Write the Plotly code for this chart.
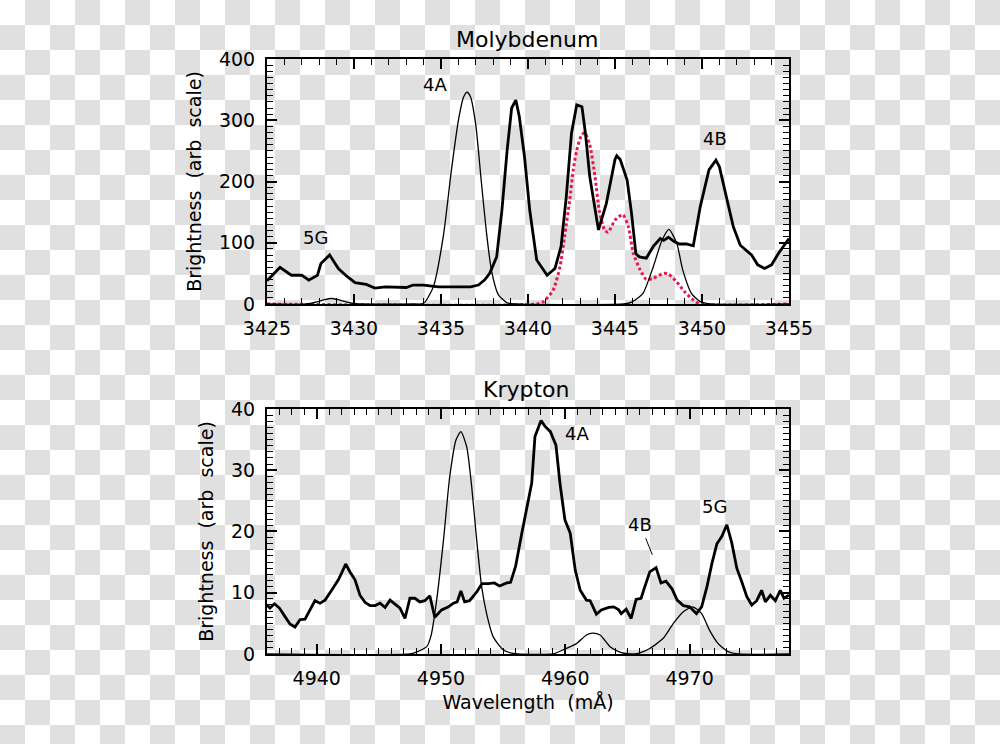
import plotly.graph_objects as go

# Molybdenum panel: measured spectrum (thick)
mo_wave = [3425.0, 3425.75, 3426.4, 3427.0, 3427.4, 3427.9, 3428.1, 3428.6, 3429.1, 3429.6,
           3430.06, 3430.7, 3431.2, 3431.8, 3433.0, 3433.4, 3434.0, 3434.85, 3435.5, 3436.7,
           3437.15, 3437.5, 3437.8, 3438.2, 3438.5, 3438.8, 3439.06, 3439.3, 3439.5, 3439.8,
           3440.1, 3440.5, 3441.1, 3441.55, 3441.9, 3442.2, 3442.5, 3442.8, 3443.1, 3443.3,
           3443.55, 3443.85, 3444.05, 3444.5, 3445.0, 3445.1, 3445.3, 3445.7, 3445.95, 3446.2,
           3446.4, 3446.8, 3447.2, 3447.6, 3447.8, 3448.07, 3448.4, 3448.7, 3449.1, 3449.5,
           3449.9, 3450.4, 3450.8, 3451.0, 3451.4, 3451.8, 3452.2, 3452.6, 3452.85, 3453.2,
           3453.6, 3454.0, 3454.4, 3455.0]
mo_obs = [38, 60, 47, 47, 39, 47, 66, 80, 58, 45,
          35, 32, 26, 28, 27, 31, 31, 28, 28, 28,
          31, 39, 50, 77, 153, 251, 320, 333, 306, 240,
          153, 72, 47, 58, 94, 175, 279, 325, 322, 279,
          208, 159, 121, 164, 236, 242, 236, 202, 148, 82,
          77, 75, 94, 107, 104, 109, 102, 98, 98, 95,
          159, 219, 235, 224, 175, 126, 96, 87, 80, 64,
          58, 64, 83, 107]

# Molybdenum panel: fitted lines (thin)
mo_fit_wave = [3425.0, 3427.3, 3427.8, 3428.3, 3428.7, 3429.1, 3429.6, 3430.1, 3433.5, 3434.0,
               3434.56, 3435.13, 3435.6, 3436.0, 3436.3, 3436.5, 3436.7, 3437.0, 3437.3, 3437.6,
               3437.9, 3438.3, 3438.8, 3439.3, 3445.5, 3445.95, 3446.6, 3447.2, 3447.7, 3448.1,
               3448.55, 3448.9, 3449.4, 3449.9, 3450.5, 3455.0]
mo_fit = [0, 0, 3, 7, 9, 7, 3, 0.5, 0, 1,
          28, 110, 219, 300, 338, 346, 338, 292, 205, 120,
          55, 15, 2, 0, 0, 3, 17, 61, 104, 122,
          99, 55, 17, 4, 0, 0]

# Molybdenum panel: blended component (red dotted)
mo_sum_wave = [3425.0, 3440.5, 3440.9, 3441.45, 3441.84, 3442.1, 3442.4, 3442.6, 3442.8, 3443.05,
               3443.25, 3443.55, 3443.85, 3444.1, 3444.4, 3444.6, 3445.0, 3445.45, 3445.77, 3446.05,
               3446.44, 3446.8, 3447.2, 3447.8, 3448.07, 3448.55, 3449.0, 3449.5, 3449.9, 3455.0]
mo_sum = [0, 0, 4, 23, 61, 110, 170, 219, 251, 274,
          280, 260, 208, 152, 121, 117, 137, 146, 126, 83,
          56, 40, 42, 50, 49, 36, 20, 6.5, 0, 0]

# Krypton panel: measured spectrum (thick)
kr_wave = [4936.0, 4936.24, 4936.6, 4937.0, 4937.45, 4937.85, 4938.25, 4938.65, 4939.06, 4939.46,
           4939.86, 4940.26, 4940.67, 4941.2, 4941.74, 4942.0, 4942.33, 4942.68, 4943.08, 4943.48,
           4943.9, 4944.3, 4944.7, 4945.1, 4945.5, 4945.9, 4946.3, 4946.7, 4947.1, 4947.5,
           4947.9, 4948.3, 4948.7, 4949.1, 4949.5, 4950.05, 4950.6, 4951.0, 4951.3, 4951.6,
           4951.9, 4952.3, 4952.9, 4953.3, 4953.8, 4954.3, 4954.7, 4955.3, 4955.6, 4956.0,
           4956.5, 4956.9, 4957.3, 4957.56, 4958.05, 4958.36, 4958.8, 4959.25, 4959.57, 4959.97,
           4960.4, 4960.8, 4961.2, 4961.7, 4962.0, 4962.5, 4962.9, 4963.5, 4963.9, 4964.3,
           4964.5, 4964.9, 4965.3, 4965.7, 4966.1, 4966.4, 4966.8, 4967.3, 4967.7, 4968.1,
           4968.6, 4969.0, 4969.5, 4970.0, 4970.55, 4970.97, 4971.4, 4971.8, 4972.2, 4972.6,
           4973.0, 4973.4, 4973.8, 4974.2, 4974.6, 4975.0, 4975.4, 4975.8, 4976.1, 4976.5,
           4976.9, 4977.3, 4977.6, 4978.0]
kr_obs = [8.0, 7.5, 8.2, 7.5, 6.1, 4.9, 4.4, 5.6, 5.7, 7.2,
          8.7, 8.3, 8.8, 10.4, 12.1, 13.2, 14.7, 13.4, 12.1, 9.6,
          8.4, 7.9, 7.9, 8.3, 7.6, 8.8, 8.2, 7.5, 5.8, 9.1,
          9.1, 8.5, 8.7, 9.5, 6.0, 7.2, 7.7, 8.3, 8.5, 10.3,
          8.5, 8.7, 10.2, 11.5, 11.5, 11.6, 11.1, 11.6, 11.7, 14.3,
          19.7, 24.1, 27.9, 35.5, 38.1, 37.2, 36.3, 34.1, 27.9, 21.9,
          19.7, 13.7, 10.4, 8.8, 8.7, 6.5, 7.2, 7.6, 7.7, 7.2,
          6.6, 7.3, 5.8, 8.9, 9.1, 11.0, 13.4, 14.1, 11.6, 11.9,
          10.6, 8.8, 7.9, 7.7, 6.6, 7.7, 11.0, 14.8, 18.0, 19.2,
          21.1, 18.1, 14.0, 11.8, 9.4, 8.0, 8.7, 10.4, 8.5, 9.6,
          8.7, 10.4, 9.1, 9.6]

# Krypton panel: fitted lines (thin)
kr_fit_wave = [4936.0, 4947.5, 4948.0, 4948.85, 4949.2, 4949.65, 4950.2, 4950.7, 4951.2, 4951.6,
               4952.07, 4952.47, 4952.87, 4953.27, 4953.67, 4954.2, 4955.0, 4955.8, 4959.0, 4959.8,
               4960.9, 4961.7, 4962.2, 4962.8, 4963.6, 4964.4, 4965.3, 4966.0, 4966.8, 4967.9,
               4968.7, 4969.5, 4970.25, 4970.97, 4971.6, 4972.3, 4973.1, 4974.0, 4978.0]
kr_fit = [0, 0, 0.3, 1.2, 3.0, 8.8, 18.6, 28.9, 34.9, 36.3,
          33.8, 27.3, 18.6, 11.0, 6.6, 2.8, 0.7, 0.1, 0, 0.65,
          1.7, 3.1, 3.4, 3.1, 1.2, 0.3, 0, 0.2, 0.9, 2.6,
          5.0, 6.9, 7.7, 6.6, 3.9, 1.7, 0.4, 0, 0]

# line labels
mo_labels = ["5G", "4A", "4B"]
mo_label_x = [3427.76, 3434.66, 3450.75]
mo_label_y = [108, 359, 271]
kr_labels = ["4A", "4B", "5G"]
kr_label_x = [4960.98, 4966.0, 4972.0]
kr_label_y = [36.0, 21.1, 24.0]

FONT = "DejaVu Sans"
RED = "#e8194f"

fig = go.Figure()

fig.add_trace(go.Scatter(x=mo_sum_wave, y=mo_sum, mode="lines", xaxis="x", yaxis="y",
                         line=dict(color=RED, width=3, dash="3px,2.5px", shape="spline", smoothing=0.6)))
fig.add_trace(go.Scatter(x=mo_fit_wave, y=mo_fit, mode="lines", xaxis="x", yaxis="y",
                         line=dict(color="black", width=1.3, shape="spline", smoothing=0.6)))
fig.add_trace(go.Scatter(x=mo_wave, y=mo_obs, mode="lines", xaxis="x", yaxis="y",
                         line=dict(color="black", width=2.8)))

fig.add_trace(go.Scatter(x=kr_fit_wave, y=kr_fit, mode="lines", xaxis="x2", yaxis="y2",
                         line=dict(color="black", width=1.3, shape="spline", smoothing=0.6)))
fig.add_trace(go.Scatter(x=kr_wave, y=kr_obs, mode="lines", xaxis="x2", yaxis="y2",
                         line=dict(color="black", width=2.8)))


def axis(rng, dtick, minor, **kw):
    d = dict(range=rng, dtick=dtick, tick0=0, showgrid=False, zeroline=False,
             showline=True, linecolor="black", linewidth=2, mirror="allticks",
             ticks="inside", ticklen=10, tickwidth=1.6, tickcolor="black",
             minor=dict(dtick=minor, ticks="inside", ticklen=6, tickwidth=1.3,
                        tickcolor="black", showgrid=False),
             tickfont=dict(family=FONT, size=19, color="black"),
             ticklabelstandoff=6, automargin=False)
    d.update(kw)
    return d


ytitle = dict(text="Brightness  (arb  scale)", font=dict(family=FONT, size=19, color="black"),
              standoff=12)

fig.update_layout(
    width=1000, height=744,
    margin=dict(l=267, r=211, t=59, b=90),
    paper_bgcolor="rgba(0,0,0,0)", plot_bgcolor="rgba(0,0,0,0)",
    showlegend=False,
    xaxis=axis([3425, 3455], 5, 1, anchor="y", layer="below traces"),
    yaxis=axis([0, 400], 100, 10, anchor="x", domain=[0.5882, 1.0], title=ytitle),
    xaxis2=axis([4936, 4978], 10, 1, anchor="y2",
                title=dict(text="Wavelength  (mÅ)", font=dict(family=FONT, size=19, color="black"),
                           standoff=8)),
    yaxis2=axis([0, 40], 10, 1, anchor="x2", domain=[0.0, 0.4118], title=ytitle),
)

for t, x, y in zip(mo_labels, mo_label_x, mo_label_y):
    fig.add_annotation(x=x, y=y, xref="x", yref="y", text=t, showarrow=False,
                       font=dict(family=FONT, size=18, color="black"))
for t, x, y in zip(kr_labels, kr_label_x, kr_label_y):
    fig.add_annotation(x=x, y=y, xref="x2", yref="y2", text=t, showarrow=False,
                       font=dict(family=FONT, size=18, color="black"))

# pointer from the 4B label to its peak
fig.add_shape(type="line", xref="x2", yref="y2", x0=4966.47, y0=18.9, x1=4967.0, y1=16.2,
              line=dict(color="black", width=1))

fig.add_annotation(x=0.498, y=1.032, xref="paper", yref="paper", text="Molybdenum",
                   xanchor="center", yanchor="middle",
                   showarrow=False, font=dict(family=FONT, size=22, color="black"))
fig.add_annotation(x=0.498, y=0.4437, xref="paper", yref="paper", text="Krypton",
                   xanchor="center", yanchor="middle",
                   showarrow=False, font=dict(family=FONT, size=22, color="black"))

# transparent-image checkerboard behind the figure
checker = ("document.body.style.margin='0';"
           "document.documentElement.style.background="
           "'repeating-conic-gradient(#e0e0e0 0% 25%, #ffffff 0% 50%) 0 0/50px 50px';")

fig.write_html("out.html", post_script=checker, config={"displayModeBar": False})
